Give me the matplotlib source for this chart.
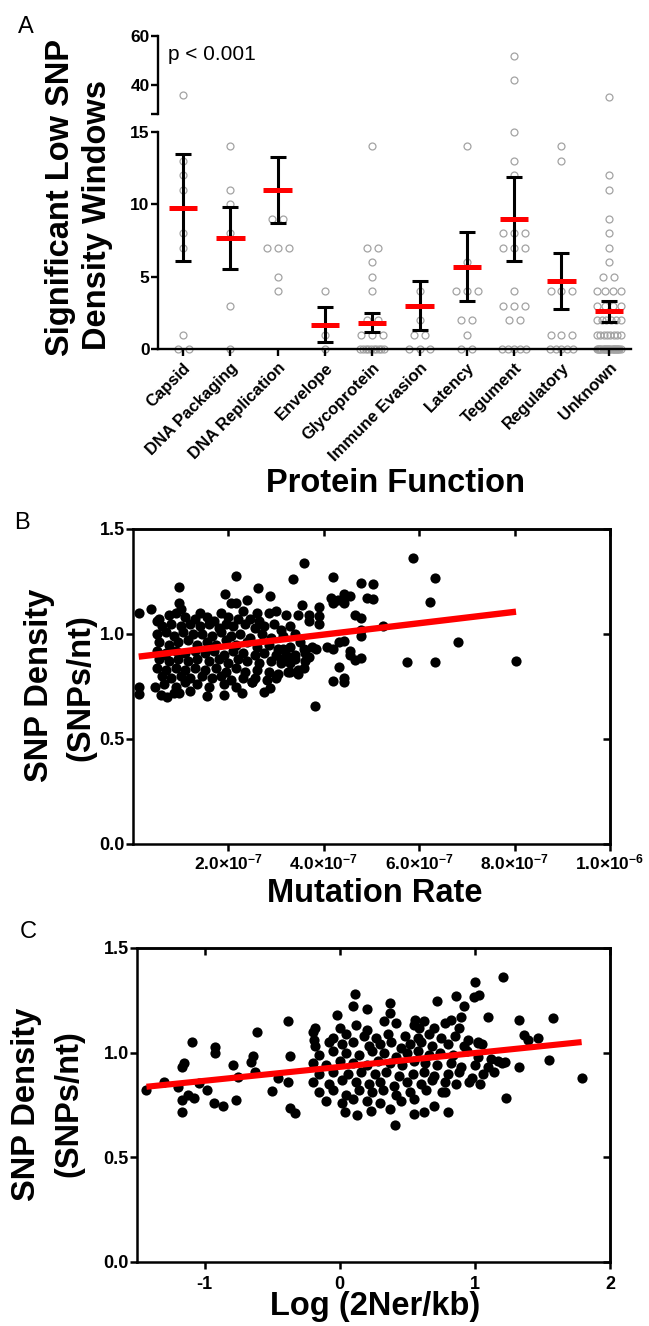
import numpy as np
import matplotlib
matplotlib.use("Agg")
import matplotlib.pyplot as plt

plt.rcParams['font.family'] = ['Liberation Sans', 'DejaVu Sans']
plt.rcParams['mathtext.fontset'] = 'custom'
plt.rcParams['mathtext.rm'] = 'Liberation Sans:bold'
plt.rcParams['mathtext.bf'] = 'Liberation Sans:bold'
plt.rcParams['mathtext.fallback'] = 'stixsans'

# ---------------- panel A data ----------------
functions = ['Capsid', 'DNA Packaging', 'DNA Replication', 'Envelope', 'Glycoprotein',
             'Immune Evasion', 'Latency', 'Tegument', 'Regulatory', 'Unknown']
capsid = [36, 13, 12, 11, 8, 7, 1, 0, 0]
dna_packaging = [14, 11, 10, 8, 3, 0]
dna_replication = [9, 9, 7, 7, 7, 5, 4]
envelope = [4, 1, 0]
glycoprotein = [14, 7, 7, 6, 5, 4, 2, 2, 1, 1, 1, 0, 0, 0, 0, 0, 0, 0, 0, 0, 0]
immune_evasion = [4, 2, 1, 1, 0, 0, 0]
latency = [14, 6, 4, 4, 4, 2, 2, 1, 0, 0]
tegument = [52, 42, 15, 13, 12, 8, 8, 8, 7, 7, 7, 4, 3, 3, 3, 2, 2, 0, 0, 0, 0, 0]
regulatory = [14, 13, 4, 4, 4, 1, 1, 1, 0, 0, 0, 0, 0]
unknown = [35, 12, 11, 9, 8, 7, 6, 5, 5, 4, 4, 4, 4, 3, 3, 3, 3, 2, 2, 2, 2, 2, 2,
           1, 1, 1, 1, 1, 1, 1, 1, 0, 0, 0, 0, 0, 0, 0, 0, 0, 0, 0, 0, 0, 0, 0, 0,
           0, 0, 0, 0, 0, 0]
groups = [capsid, dna_packaging, dna_replication, envelope, glycoprotein,
          immune_evasion, latency, tegument, regulatory, unknown]
group_means = [9.75, 7.65, 11.0, 1.67, 1.83, 3.0, 5.7, 9.0, 4.7, 2.6]
group_sems = [3.7, 2.15, 2.3, 1.2, 0.65, 1.7, 2.4, 2.9, 1.95, 0.72]

# ---------------- panel B data (mutation rate in 1e-7) ----------------
b_rate_sparse = [0.12, 0.12, 0.12, 0.37, 0.47, 0.58, 0.72, 0.96, 0.96, 0.96,
                 1.55, 1.90, 1.92, 2.05, 2.15, 2.15, 2.29, 2.39, 2.50, 2.63,
                 2.74, 2.88, 2.88, 3.36, 3.45, 3.50, 3.55, 3.59, 3.59, 3.59,
                 3.70, 3.70, 3.70, 3.82, 3.84, 3.90, 3.90, 3.90, 4.07, 4.15,
                 4.19, 4.19, 4.19, 4.20, 4.30, 4.31, 4.31, 4.42, 4.42, 4.42,
                 4.42, 4.42, 4.54, 4.54, 4.55, 4.66, 4.66, 4.79, 4.79, 4.79,
                 4.79, 4.79, 4.91, 5.03, 5.04, 5.25, 5.74, 5.87, 6.23, 6.34,
                 6.34, 6.82, 8.03]
b_snp_sparse = [1.10, 0.75, 0.715, 1.117, 0.749, 0.71, 0.70, 1.225, 1.146, 0.717,
                0.706, 0.71, 1.189, 1.146, 1.276, 1.146, 0.717, 1.16, 0.773, 1.217,
                0.725, 1.181, 0.741, 1.262, 1.09, 0.96, 1.14, 1.336, 0.93, 0.84,
                1.09, 1.06, 0.89, 0.657, 0.93, 1.13, 1.085, 1.05, 0.94, 1.17,
                1.273, 0.778, 0.93, 1.15, 1.16, 0.841, 0.96, 1.19, 1.15, 0.789,
                0.77, 0.965, 0.92, 0.90, 1.18, 1.09, 0.876, 1.241, 1.075, 1.02,
                0.99, 0.884, 1.17, 1.236, 1.165, 1.04, 0.868, 1.36, 1.154, 1.265,
                0.868, 0.963, 0.871]
b_rate_core = [0.55, 0.75, 0.90, 1.10, 1.30, 1.55, 1.70, 1.85, 2.00, 2.20, 2.45, 2.65, 2.85, 3.00, 3.20,
               0.60, 0.80, 1.00, 1.20, 1.40, 1.60, 1.80, 1.95, 2.10, 2.35, 2.55, 2.75, 2.95, 3.10, 3.30,
               0.50, 0.70, 0.85, 1.05, 1.25, 1.45, 1.65, 1.85, 2.05, 2.25, 2.45, 2.70, 2.90, 3.15, 3.40,
               0.55, 0.75, 0.95, 1.15, 1.35, 1.55, 1.75, 1.95, 2.15, 2.40, 2.60, 2.85, 3.05, 3.30,
               0.50, 0.70, 0.90, 1.10, 1.30, 1.50, 1.70, 1.90, 2.10, 2.30, 2.55, 2.75, 3.00, 3.20, 3.40, 3.60,
               0.55, 0.75, 0.95, 1.15, 1.35, 1.60, 1.80, 2.00, 2.20, 2.40, 2.65, 2.90, 3.10, 3.30,
               0.50, 0.70, 0.90, 1.10, 1.30, 1.50, 1.75, 1.95, 2.15, 2.35, 2.60, 2.85, 3.05, 3.25, 3.45,
               0.60, 0.80, 1.00, 1.20, 1.45, 1.65, 1.85, 2.05, 2.30, 2.55, 2.80, 3.00,
               0.65, 0.90, 1.10, 1.35, 1.60, 1.90, 2.15, 2.50,
               0.50, 0.60, 1.00, 1.40, 1.20, 0.85, 2.30, 2.60, 3.10, 3.25, 3.40, 3.30, 3.45, 3.60, 3.15, 3.75]
b_snp_core = [1.07, 1.09, 1.10, 1.08, 1.07, 1.08, 1.06, 1.10, 1.08, 1.07, 1.07, 1.06, 1.10, 1.11, 1.09,
              1.04, 1.05, 1.04, 1.05, 1.04, 1.05, 1.03, 1.05, 1.04, 1.05, 1.03, 1.04, 1.05, 1.02, 1.04,
              1.00, 1.01, 0.99, 1.01, 1.00, 1.00, 0.99, 1.01, 0.99, 1.00, 0.98, 1.00, 0.98, 0.99, 1.00,
              0.96, 0.95, 0.96, 0.97, 0.95, 0.96, 0.95, 0.97, 0.95, 0.96, 0.94, 0.95, 0.93, 0.94,
              0.92, 0.91, 0.92, 0.91, 0.92, 0.91, 0.92, 0.90, 0.92, 0.91, 0.90, 0.91, 0.90, 0.90, 0.90, 0.91,
              0.88, 0.87, 0.88, 0.87, 0.88, 0.87, 0.88, 0.86, 0.88, 0.87, 0.86, 0.87, 0.86, 0.86,
              0.84, 0.83, 0.84, 0.83, 0.84, 0.83, 0.84, 0.82, 0.84, 0.82, 0.83, 0.82, 0.81, 0.82, 0.81,
              0.80, 0.79, 0.80, 0.79, 0.80, 0.79, 0.80, 0.78, 0.79, 0.79, 0.78, 0.79,
              0.76, 0.75, 0.77, 0.76, 0.75, 0.76, 0.75, 0.77,
              1.06, 0.90, 1.12, 1.10, 0.73, 0.72, 1.11, 1.10, 0.88, 0.87, 0.88, 0.82, 0.83, 0.87, 0.93, 0.94]
b_fit_intercept = 0.889
b_fit_slope = 0.02705  # per 1e-7

# ---------------- panel C data ----------------
c_log_sparse = [-1.43, -1.30, -1.20, -1.17, -1.15, -1.17, -1.17, -1.12, -1.08, -1.09,
                -1.04, -0.98, -0.92, -0.92, -0.93, -0.86, -0.79, -0.77, -0.75, -0.66,
                -0.64, -0.63, -0.61, -0.50, -0.46, -0.38, -0.38, -0.37, -0.37, -0.33,
                0.11, 0.10, 0.20, -0.02, 0.37, 0.37, 0.72, 0.86, 0.92, 1.00,
                0.99, 1.03, 1.21, 1.10, 0.82, 0.90, 0.56, 0.59, -0.18, -0.19,
                1.33, 1.36, 1.39, 1.47, 1.58, 1.55, 1.33, 1.22, 1.23, 1.79,
                1.17, 1.02,
                0.41, 0.80, 0.55, 0.62, 0.70, 0.23, 0.13, 0.04, 0.37, 0.78]
c_snp_sparse = [0.822, 0.861, 0.838, 0.933, 0.949, 0.774, 0.718, 0.798, 0.782, 1.053,
                0.854, 0.822, 1.029, 1.00, 0.761, 0.745, 0.941, 0.774, 0.885, 0.957,
                0.984, 0.909, 1.10, 0.818, 0.877, 0.861, 1.151, 0.984, 0.734, 0.713,
                1.28, 1.223, 1.207, 1.18, 1.236, 1.188, 1.247, 1.271, 1.223, 1.339,
                1.264, 1.275, 1.363, 1.172, 1.156, 1.172, 1.156, 1.116, 1.116, 1.06,
                1.156, 1.084, 1.061, 1.072, 1.164, 0.965, 0.933, 0.957, 0.782, 0.877,
                0.96, 1.045,
                0.654, 0.715, 0.707, 0.718, 0.745, 0.723, 0.704, 0.718, 0.729, 0.814]
c_log_core = [0.00, 0.12, 0.20, 0.33, 0.42, 0.55, 0.62, 0.70, 0.78, 0.88,
              -0.20, -0.05, 0.05, 0.18, 0.27, 0.36, 0.48, 0.58, 0.66, 0.75, 0.85, 0.95, 1.02,
              -0.18, -0.08, 0.02, 0.10, 0.22, 0.30, 0.38, 0.45, 0.52, 0.60, 0.68, 0.80, 0.92, 1.05,
              -0.15, -0.05, 0.05, 0.14, 0.24, 0.33, 0.42, 0.50, 0.58, 0.66, 0.74, 0.84, 0.94, 1.02, 1.12,
              -0.20, -0.10, 0.00, 0.10, 0.20, 0.28, 0.37, 0.46, 0.55, 0.63, 0.72, 0.82, 0.90, 1.00, 1.10, 1.20,
              -0.15, -0.05, 0.06, 0.16, 0.26, 0.34, 0.44, 0.54, 0.62, 0.70, 0.80, 0.88, 0.98, 1.06, 1.14,
              -0.20, -0.08, 0.02, 0.12, 0.22, 0.30, 0.40, 0.50, 0.60, 0.68, 0.78, 0.86, 0.96, 1.04,
              -0.15, -0.05, 0.05, 0.14, 0.24, 0.32, 0.42, 0.52, 0.64, 0.76,
              -0.10, 0.02, 0.10, 0.20, 0.30, 0.45, 0.55]
c_snp_core = [1.12, 1.13, 1.11, 1.15, 1.14, 1.13, 1.15, 1.12, 1.14, 1.12,
              1.10, 1.07, 1.09, 1.08, 1.07, 1.09, 1.08, 1.07, 1.09, 1.07, 1.08, 1.06, 1.05,
              1.03, 1.05, 1.04, 1.05, 1.03, 1.04, 1.05, 1.02, 1.04, 1.05, 1.03, 1.04, 1.03, 1.04,
              0.99, 1.01, 1.00, 0.99, 1.01, 1.00, 0.98, 1.00, 1.01, 0.99, 1.00, 0.99, 1.01, 0.98, 0.97,
              0.95, 0.94, 0.96, 0.95, 0.94, 0.96, 0.95, 0.94, 0.96, 0.95, 0.94, 0.95, 0.93, 0.94, 0.93, 0.95,
              0.90, 0.91, 0.90, 0.91, 0.90, 0.91, 0.89, 0.90, 0.91, 0.89, 0.90, 0.91, 0.88, 0.90, 0.91,
              0.86, 0.85, 0.87, 0.86, 0.85, 0.86, 0.84, 0.86, 0.85, 0.87, 0.86, 0.85, 0.86, 0.85,
              0.81, 0.82, 0.80, 0.82, 0.81, 0.82, 0.80, 0.81, 0.82, 0.81,
              0.77, 0.76, 0.78, 0.77, 0.76, 0.77, 0.78]
c_fit_intercept = 0.932
c_fit_slope = 0.0663

# ---------------- layout helpers (pixel boxes) ----------------
W, H = 649, 1326
fig = plt.figure(figsize=(W / 100, H / 100), dpi=100)


def box(left, top, right, bottom):
    return [left / W, 1 - bottom / H, (right - left) / W, (bottom - top) / H]


def swarm(values, step=0.23, max_width=0.5):
    values = np.asarray(values, dtype=float)
    offs = np.zeros(len(values))
    for v in np.unique(values):
        idx = np.where(values == v)[0]
        k = len(idx)
        if k > 1:
            w = min((k - 1) * step, max_width)
            offs[idx] = np.linspace(-w / 2, w / 2, k)
    return offs


LW = 1.7
ax_lo = fig.add_axes(box(158, 132, 631, 349))
ax_hi = fig.add_axes(box(158, 36, 631, 114))

for i, vals in enumerate(groups):
    vals = np.asarray(vals, dtype=float)
    xs = i + swarm(vals)
    lo = vals <= 15
    ax_lo.plot(xs[lo], vals[lo], 'o', mfc='none', mec='#a3a3a3', ms=5, mew=0.9,
               clip_on=False, zorder=1)
    ax_hi.plot(xs[~lo], vals[~lo], 'o', mfc='none', mec='#a3a3a3', ms=5, mew=0.9,
               clip_on=False, zorder=1)

xpos = np.arange(len(functions))
ax_lo.errorbar(xpos, group_means, yerr=group_sems, fmt='none', ecolor='black',
               elinewidth=2.2, capsize=6, capthick=2.2, zorder=2)
ax_lo.hlines(group_means, xpos - 0.3, xpos + 0.3, color='#ff0000', lw=3.6, zorder=3)

for a in (ax_lo, ax_hi):
    a.set_xlim(-0.53, 9.47)
    a.spines['top'].set_visible(False)
    a.spines['right'].set_visible(False)
    a.spines['left'].set_linewidth(LW)
    a.tick_params(axis='y', length=5, width=LW, pad=1, labelsize=12.5)

ax_lo.set_ylim(0, 15)
ax_lo.set_yticks([0, 5, 10, 15])
ax_lo.set_yticklabels(['0', '5', '10', '15'], fontweight='bold', fontsize=12.5)
ax_lo.spines['bottom'].set_linewidth(LW)
ax_lo.set_xticks(xpos)
ax_lo.set_xticklabels(functions, rotation=45, ha='right', rotation_mode='anchor',
                      fontweight='bold', fontsize=12)
ax_lo.tick_params(axis='x', length=5, width=LW, pad=3)

ax_hi.set_ylim(28, 60)
ax_hi.set_yticks([28, 40, 60])
ax_hi.set_yticklabels(['', '40', '60'], fontweight='bold', fontsize=12.5)
ax_hi.spines['bottom'].set_visible(False)
ax_hi.set_xticks([])
ax_hi.patch.set_visible(False)

fig.text(26 / W, 1 - 27 / H, 'A', fontsize=17, ha='center', va='center')
fig.text(168 / W, 1 - 55 / H, 'p < 0.001', fontsize=15, ha='left', va='center')
fig.text(61 / W, 1 - 198 / H, 'Significant Low SNP', rotation=90, fontsize=23.5,
         fontweight='bold', ha='center', va='center')
fig.text(98 / W, 1 - 215 / H, 'Density Windows', rotation=90, fontsize=23.5,
         fontweight='bold', ha='center', va='center')
fig.text(396 / W, 1 - 483 / H, 'Protein Function', fontsize=23.5, fontweight='bold',
         ha='center', va='center')


# ---------------- panels B and C ----------------
def prism_box(ax, xt, yt):
    for s in ax.spines.values():
        s.set_linewidth(1.8)
    ax.set_xticks(xt)
    ax.set_yticks(yt)
    ax.set_yticklabels(['%.1f' % v for v in yt], fontweight='bold', fontsize=13)
    ax.tick_params(direction='out', length=5, width=1.8, pad=1)
    top = ax.secondary_xaxis('top')
    top.set_xticks(xt)
    top.tick_params(direction='in', length=5, width=1.8, labeltop=False)
    right = ax.secondary_yaxis('right')
    right.set_yticks(yt)
    right.tick_params(direction='in', length=5, width=1.8, labelright=False)
    for s in (top.spines['top'], right.spines['right']):
        s.set_linewidth(1.8)


yt = [0.0, 0.5, 1.0, 1.5]
DOT = 54

ax_b = fig.add_axes(box(133, 529, 610, 844))
b_rate = np.array(b_rate_sparse + b_rate_core) * 1e-7
b_snp = np.array(b_snp_sparse + b_snp_core)
ax_b.scatter(b_rate, b_snp, s=DOT, color='black', linewidths=0, zorder=2)
bx = np.array([b_rate.min(), b_rate.max()])
ax_b.plot(bx, b_fit_intercept + b_fit_slope * bx / 1e-7, color='#ff0000', lw=4.6,
          solid_capstyle='butt', zorder=3)
ax_b.set_xlim(0, 1e-6)
ax_b.set_ylim(0, 1.5)
bxt = [2e-7, 4e-7, 6e-7, 8e-7, 1e-6]
prism_box(ax_b, bxt, yt)
ax_b.set_xticklabels([r'$\mathbf{2.0{\times}10^{-7}}$', r'$\mathbf{4.0{\times}10^{-7}}$',
                      r'$\mathbf{6.0{\times}10^{-7}}$', r'$\mathbf{8.0{\times}10^{-7}}$',
                      r'$\mathbf{1.0{\times}10^{-6}}$'], fontsize=12.5)

fig.text(22 / W, 1 - 523 / H, 'B', fontsize=17, ha='center', va='center')
fig.text(39.5 / W, 1 - 685 / H, 'SNP Density', rotation=90, fontsize=23.5,
         fontweight='bold', ha='center', va='center')
fig.text(81 / W, 1 - 688 / H, '(SNPs/nt)', rotation=90, fontsize=23.5,
         fontweight='bold', ha='center', va='center')
fig.text(375 / W, 1 - 893 / H, 'Mutation Rate', fontsize=23.5, fontweight='bold',
         ha='center', va='center')

ax_c = fig.add_axes(box(137, 948, 610, 1262))
c_log = np.array(c_log_sparse + c_log_core)
c_snp = np.array(c_snp_sparse + c_snp_core)
ax_c.scatter(c_log, c_snp, s=DOT, color='black', linewidths=0, zorder=2)
cx = np.array([c_log.min(), c_log.max()])
ax_c.plot(cx, c_fit_intercept + c_fit_slope * cx, color='#ff0000', lw=4.4,
          solid_capstyle='butt', zorder=3)
ax_c.set_xlim(-1.5, 2.0)
ax_c.set_ylim(0, 1.5)
prism_box(ax_c, [-1, 0, 1, 2], yt)
ax_c.set_xticklabels(['-1', '0', '1', '2'], fontweight='bold', fontsize=13)
ax_c.tick_params(axis='x', pad=5)

fig.text(28 / W, 1 - 932 / H, 'C', fontsize=17, ha='center', va='center')
fig.text(27 / W, 1 - 1104 / H, 'SNP Density', rotation=90, fontsize=23.5,
         fontweight='bold', ha='center', va='center')
fig.text(69 / W, 1 - 1104 / H, '(SNPs/nt)', rotation=90, fontsize=23.5,
         fontweight='bold', ha='center', va='center')
fig.text(375 / W, 1 - 1307 / H, 'Log (2Ner/kb)', fontsize=23.5, fontweight='bold',
         ha='center', va='center')

fig.savefig('out.png', dpi=100)
